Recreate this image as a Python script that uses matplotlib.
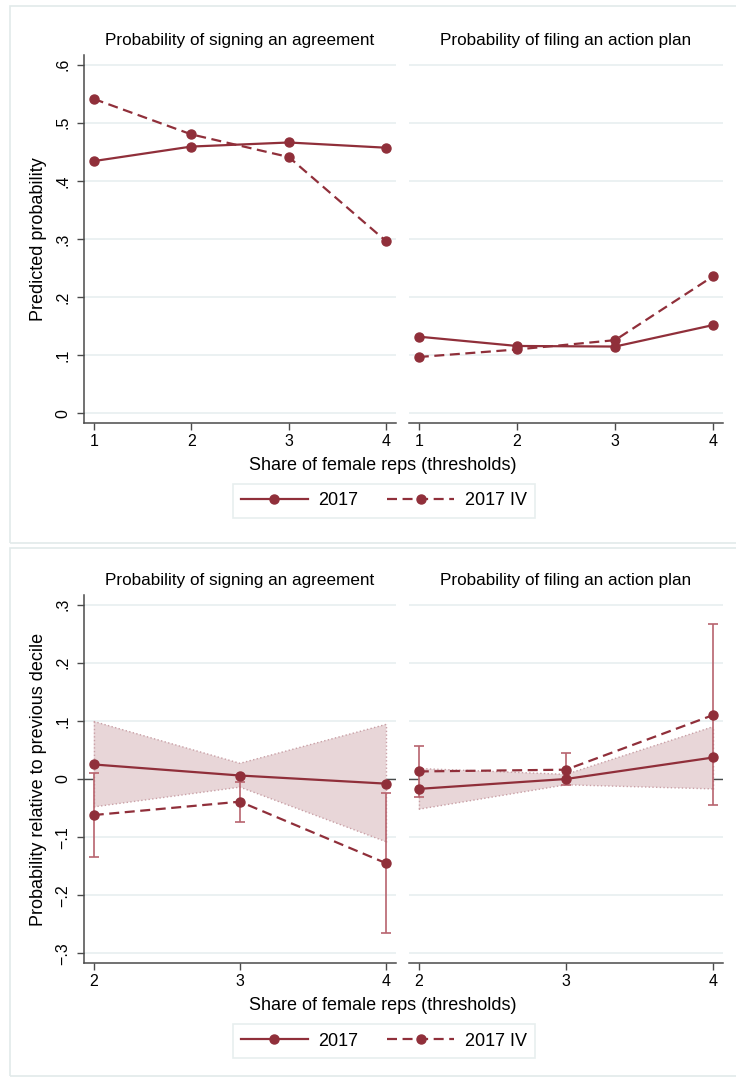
import matplotlib
matplotlib.use('Agg')
import matplotlib.pyplot as plt
from matplotlib.lines import Line2D
from matplotlib.patches import Rectangle

plt.rcParams['font.family'] = ['Liberation Sans', 'DejaVu Sans']

# ---- data ----
thresholds_top = [1, 2, 3, 4]
agree_2017 = [0.434, 0.459, 0.466, 0.457]
agree_iv = [0.541, 0.480, 0.441, 0.296]
plan_2017 = [0.132, 0.116, 0.115, 0.152]
plan_iv = [0.097, 0.110, 0.126, 0.236]

thresholds_bot = [2, 3, 4]
d_agree_2017 = [0.025, 0.006, -0.008]
d_agree_2017_lo = [-0.048, -0.014, -0.108]
d_agree_2017_hi = [0.099, 0.027, 0.094]
d_agree_iv = [-0.062, -0.039, -0.145]
d_agree_iv_lo = [-0.134, -0.074, -0.265]
d_agree_iv_hi = [0.011, -0.005, -0.024]

d_plan_2017 = [-0.017, 0.000, 0.037]
d_plan_2017_lo = [-0.052, -0.010, -0.017]
d_plan_2017_hi = [0.018, 0.008, 0.090]
d_plan_iv = [0.013, 0.016, 0.110]
d_plan_iv_lo = [-0.031, -0.010, -0.045]
d_plan_iv_hi = [0.057, 0.044, 0.266]

titles = ['Probability of signing an agreement', 'Probability of filing an action plan']
series_labels = ['2017', '2017 IV']
top_yticks = [0, 0.1, 0.2, 0.3, 0.4, 0.5, 0.6]
top_yticklabels = ['0', '.1', '.2', '.3', '.4', '.5', '.6']
bot_yticks = [-0.3, -0.2, -0.1, 0, 0.1, 0.2, 0.3]
bot_yticklabels = ['\u2212.3', '\u2212.2', '\u2212.1', '0', '.1', '.2', '.3']

# ---- styling ----
W, H = 736, 1078
RED = '#902f3a'
BAND = '#e8d6d8'
BAND_EDGE = '#c9a0a6'
ERR = '#b8646e'
GRID = '#e6eeef'
AXC = '#4a4a4a'
FRAME = '#e2eaea'
DASH = (4.5, 2.5)


def px_rect(x0, y0, x1, y1):
    """pixel box (top-left origin) -> figure fraction rect"""
    return [x0 / W, 1 - y1 / H, (x1 - x0) / W, (y1 - y0) / H]


def fx(x):
    return x / W


def fy(y):
    return 1 - y / H


fig = plt.figure(figsize=(W / 100, H / 100), dpi=100)
fig.patch.set_facecolor('white')

# outer frames of the two stata graphs
for y0, y1 in [(6, 543), (548, 1076)]:
    fig.add_artist(Rectangle((fx(10), fy(y1)), fx(740) - fx(10), fy(y0) - fy(y1),
                             transform=fig.transFigure, fill=False,
                             edgecolor=FRAME, linewidth=1.2))


def style_axes(ax, left, xlim, ylim, xticks, yticks, yticklabels):
    ax.set_xlim(*xlim)
    ax.set_ylim(*ylim)
    ax.set_facecolor('white')
    for s in ['top', 'right']:
        ax.spines[s].set_visible(False)
    ax.spines['bottom'].set_color(AXC)
    ax.spines['bottom'].set_linewidth(1.1)
    ax.set_xticks(xticks)
    ax.set_xticklabels([str(t) for t in xticks], fontsize=11.5)
    ax.set_yticks(yticks)
    ax.yaxis.grid(True, color=GRID, linewidth=1.1, zorder=0)
    ax.set_axisbelow(True)
    ax.tick_params(axis='x', length=5, width=1, color=AXC, pad=3)
    if left:
        ax.spines['left'].set_color(AXC)
        ax.spines['left'].set_linewidth(1.1)
        ax.set_yticklabels(yticklabels, rotation=90, va='center', fontsize=11.5)
        ax.tick_params(axis='y', length=5, width=1, color=AXC, pad=5)
    else:
        ax.spines['left'].set_visible(False)
        ax.tick_params(axis='y', left=False, labelleft=False)


def plot_line(ax, x, y, dashed):
    ln, = ax.plot(x, y, color=RED, linewidth=1.6, marker='o', markersize=6.5,
                  zorder=5)
    if dashed:
        ln.set_dashes(DASH)
    return ln


# ---- top graph ----
top_xlim = (0.9, 4.1)
top_ylim = (-0.0165, 0.6165)
ax_tl = fig.add_axes(px_rect(84, 55, 396, 423))
ax_tr = fig.add_axes(px_rect(409, 55, 723, 423))
for ax, s17, siv, left in [(ax_tl, agree_2017, agree_iv, True),
                           (ax_tr, plan_2017, plan_iv, False)]:
    style_axes(ax, left, top_xlim, top_ylim, thresholds_top, top_yticks, top_yticklabels)
    plot_line(ax, thresholds_top, s17, False)
    plot_line(ax, thresholds_top, siv, True)
ax_tl.set_ylabel('Predicted probability', fontsize=13, labelpad=6)

# ---- bottom graph ----
bot_xlim = (1.9333, 4.0667)
bot_ylim = (-0.3165, 0.3165)
ax_bl = fig.add_axes(px_rect(84, 595, 396, 963))
ax_br = fig.add_axes(px_rect(409, 595, 723, 963))
panels = [
    (ax_bl, d_agree_2017, d_agree_2017_lo, d_agree_2017_hi,
     d_agree_iv, d_agree_iv_lo, d_agree_iv_hi, True),
    (ax_br, d_plan_2017, d_plan_2017_lo, d_plan_2017_hi,
     d_plan_iv, d_plan_iv_lo, d_plan_iv_hi, False),
]
for ax, s17, lo17, hi17, siv, loiv, hiiv, left in panels:
    style_axes(ax, left, bot_xlim, bot_ylim, thresholds_bot, bot_yticks, bot_yticklabels)
    ax.axhline(0, color=AXC, linewidth=1.0, zorder=1)
    ax.fill_between(thresholds_bot, lo17, hi17, facecolor=BAND, edgecolor='none', zorder=2)
    ax.plot(thresholds_bot, lo17, color=BAND_EDGE, linewidth=1, linestyle=':', zorder=2.5)
    ax.plot(thresholds_bot, hi17, color=BAND_EDGE, linewidth=1, linestyle=':', zorder=2.5)
    for i in [0, len(thresholds_bot) - 1]:
        xv = thresholds_bot[i]
        ax.plot([xv, xv], [lo17[i], hi17[i]], color=BAND_EDGE, linewidth=1,
                linestyle=':', zorder=2.5)
    yerr = [[v - l for v, l in zip(siv, loiv)], [h - v for v, h in zip(siv, hiiv)]]
    ax.errorbar(thresholds_bot, siv, yerr=yerr, fmt='none', ecolor=ERR,
                elinewidth=1.2, capsize=3.5, capthick=1.2, zorder=3)
    plot_line(ax, thresholds_bot, s17, False)
    plot_line(ax, thresholds_bot, siv, True)
ax_bl.set_ylabel('Probability relative to previous decile', fontsize=13, labelpad=6)

# ---- titles, x labels, legends ----
for ty in [40, 581]:
    fig.text(fx(240), fy(ty), titles[0], ha='center', va='center', fontsize=12.3)
    fig.text(fx(566), fy(ty), titles[1], ha='center', va='center', fontsize=12.3)

handles = [Line2D([], [], color=RED, linewidth=1.6, marker='o', markersize=6.5),
           Line2D([], [], color=RED, linewidth=1.6, marker='o', markersize=6.5,
                  dashes=DASH)]

for label_y, leg_y in [(466, 501), (1006, 1041)]:
    fig.text(fx(383), fy(label_y), 'Share of female reps (thresholds)',
             ha='center', va='center', fontsize=13)
    leg = fig.legend(handles, series_labels, loc='center',
                     bbox_to_anchor=(fx(384), fy(leg_y)), ncol=2, fontsize=13,
                     frameon=True, fancybox=False, edgecolor=FRAME,
                     handlelength=3.7, handletextpad=0.6, columnspacing=1.6,
                     borderpad=0.45, borderaxespad=0)
    leg.get_frame().set_linewidth(1.2)

fig.savefig('out.png', dpi=100, facecolor='white')
